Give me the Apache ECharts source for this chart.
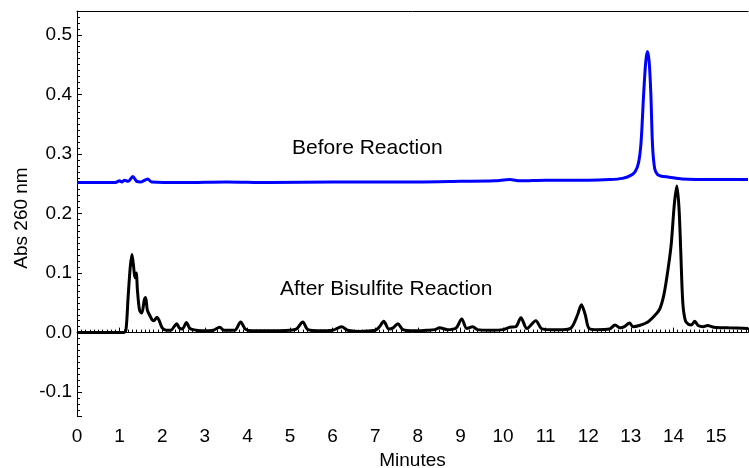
<!DOCTYPE html>
<html>
<head>
<meta charset="utf-8">
<script src="https://cdn.jsdelivr.net/npm/echarts@6/dist/echarts.min.js"></script>
<style>
  html, body { margin: 0; padding: 0; background: #fff; }
  #chart { width: 749px; height: 468px; }
</style>
</head>
<body>
<div id="chart"></div>
<script>
// trace points: [minutes, absorbance]
const beforeTrace = [
  [0, 0.252], [0.9, 0.252], [1.0, 0.255], [1.05, 0.253], [1.12, 0.256], [1.2, 0.254],
  [1.31, 0.262], [1.4, 0.254], [1.5, 0.253], [1.66, 0.258], [1.75, 0.253], [2.5, 0.252],
  [3.5, 0.253], [4.5, 0.252], [6, 0.253], [8, 0.253], [9, 0.254], [9.8, 0.255],
  [10.16, 0.257], [10.4, 0.255], [11, 0.256], [12, 0.256], [12.5, 0.257], [12.8, 0.259],
  [13.0, 0.264], [13.1, 0.27], [13.18, 0.285], [13.24, 0.32], [13.3, 0.4], [13.35, 0.455],
  [13.39, 0.472], [13.43, 0.455], [13.47, 0.4], [13.51, 0.313], [13.56, 0.275], [13.62, 0.266],
  [13.7, 0.263], [13.9, 0.261], [14.2, 0.258], [15, 0.257], [15.75, 0.257]
];

const afterTrace = [
  [0, 0], [1.1, 0], [1.15, 0.005], [1.2, 0.06], [1.25, 0.11], [1.29, 0.131], [1.33, 0.11],
  [1.36, 0.092], [1.39, 0.1], [1.42, 0.07], [1.47, 0.037], [1.52, 0.033], [1.58, 0.055],
  [1.61, 0.059], [1.65, 0.038], [1.7, 0.03], [1.76, 0.022], [1.8, 0.02], [1.88, 0.026],
  [1.93, 0.02], [2.0, 0.008], [2.1, 0.004], [2.2, 0.004], [2.3, 0.012], [2.34, 0.015],
  [2.4, 0.008], [2.47, 0.006], [2.57, 0.017], [2.65, 0.007], [2.8, 0.004], [3.0, 0.003],
  [3.2, 0.004], [3.35, 0.009], [3.45, 0.004], [3.7, 0.004], [3.84, 0.018], [3.95, 0.006],
  [4.1, 0.003], [4.5, 0.003], [5.0, 0.004], [5.15, 0.006], [5.3, 0.018], [5.42, 0.005],
  [5.7, 0.003], [6.0, 0.004], [6.21, 0.01], [6.35, 0.004], [6.6, 0.002], [7.0, 0.004],
  [7.1, 0.01], [7.2, 0.019], [7.32, 0.006], [7.42, 0.008], [7.53, 0.015], [7.65, 0.005],
  [7.9, 0.003], [8.2, 0.004], [8.4, 0.005], [8.51, 0.008], [8.7, 0.005], [8.9, 0.008],
  [9.03, 0.023], [9.15, 0.007], [9.29, 0.01], [9.4, 0.005], [9.7, 0.004], [10.0, 0.005],
  [10.16, 0.009], [10.3, 0.01], [10.42, 0.025], [10.56, 0.007], [10.77, 0.02], [10.9, 0.007],
  [11.1, 0.005], [11.4, 0.005], [11.6, 0.008], [11.75, 0.03], [11.84, 0.047], [11.93, 0.03],
  [12.02, 0.007], [12.2, 0.005], [12.5, 0.006], [12.63, 0.013], [12.75, 0.008], [12.85, 0.01],
  [12.97, 0.016], [13.05, 0.01], [13.2, 0.012], [13.4, 0.018], [13.55, 0.028], [13.68, 0.04],
  [13.78, 0.065], [13.88, 0.11], [13.95, 0.15], [14.02, 0.215], [14.08, 0.246], [14.13, 0.21],
  [14.17, 0.14], [14.22, 0.05], [14.28, 0.02], [14.35, 0.014], [14.42, 0.013], [14.5, 0.019],
  [14.58, 0.012], [14.7, 0.01], [14.8, 0.012], [14.95, 0.009], [15.3, 0.008], [15.75, 0.007]
];

const xRange = [0, 15.75];
const yRange = [-0.14, 0.54];
const traceLabels = ['Before Reaction', 'After Bisulfite Reaction'];
const yTitle = 'Abs 260 nm';

const font = '"Liberation Sans", Arial, sans-serif';

const chart = echarts.init(document.getElementById('chart'), null, { renderer: 'canvas' });

const axisLine = { lineStyle: { color: '#000', width: 1 } };

chart.setOption({
  animation: false,
  backgroundColor: '#fff',
  grid: { left: 77, right: 1, top: 11, bottom: 52, containLabel: false, outerBoundsMode: 'none' },
  xAxis: [
    {
      type: 'value',
      min: xRange[0],
      max: xRange[1],
      interval: 1,
      name: 'Minutes',
      nameLocation: 'middle',
      nameGap: 33,
      nameTextStyle: { fontFamily: font, fontSize: 19, color: '#000' },
      axisLine: axisLine,
      axisTick: { inside: true, length: 5, lineStyle: { color: '#000' } },
      minorTick: { show: true, splitNumber: 10, length: 3, lineStyle: { color: '#000' } },
      splitLine: { show: false },
      axisLabel: {
        margin: 11, fontFamily: font, fontSize: 19, color: '#000',
        showMaxLabel: false
      }
    },
    {
      type: 'value',
      position: 'top',
      min: xRange[0],
      max: xRange[1],
      axisLine: axisLine,
      axisTick: { show: false },
      axisLabel: { show: false },
      splitLine: { show: false }
    }
  ],
  yAxis: {
    type: 'value',
    min: yRange[0],
    max: yRange[1],
    splitNumber: 7,
    axisLine: Object.assign({ show: true }, axisLine),
    axisTick: { inside: true, length: 5, lineStyle: { color: '#000' } },
    minorTick: { show: true, splitNumber: 10, length: 3, lineStyle: { color: '#000' } },
    splitLine: { show: false },
    axisLabel: {
      margin: 5, fontFamily: font, fontSize: 19, color: '#000',
      showMinLabel: false, showMaxLabel: false,
      formatter: v => v.toFixed(1)
    }
  },
  series: [
    {
      name: traceLabels[0],
      type: 'line',
      data: beforeTrace,
      showSymbol: false,
      smooth: 0.3,
      lineStyle: { color: '#0000ff', width: 3 }
    },
    {
      name: traceLabels[1],
      type: 'line',
      data: afterTrace,
      showSymbol: false,
      smooth: 0.3,
      lineStyle: { color: '#000', width: 3 }
    }
  ],
  graphic: [
    {
      type: 'text', x: 22, y: 218, rotation: Math.PI / 2,
      style: { text: yTitle, font: '19px ' + font, fill: '#000', align: 'center', verticalAlign: 'middle' }
    },
    {
      type: 'text', left: 292, top: 138,
      style: { text: traceLabels[0], font: '21px ' + font, fill: '#000' }
    },
    {
      type: 'text', left: 280, top: 279,
      style: { text: traceLabels[1], font: '21px ' + font, fill: '#000' }
    }
  ]
});
</script>
</body>
</html>
